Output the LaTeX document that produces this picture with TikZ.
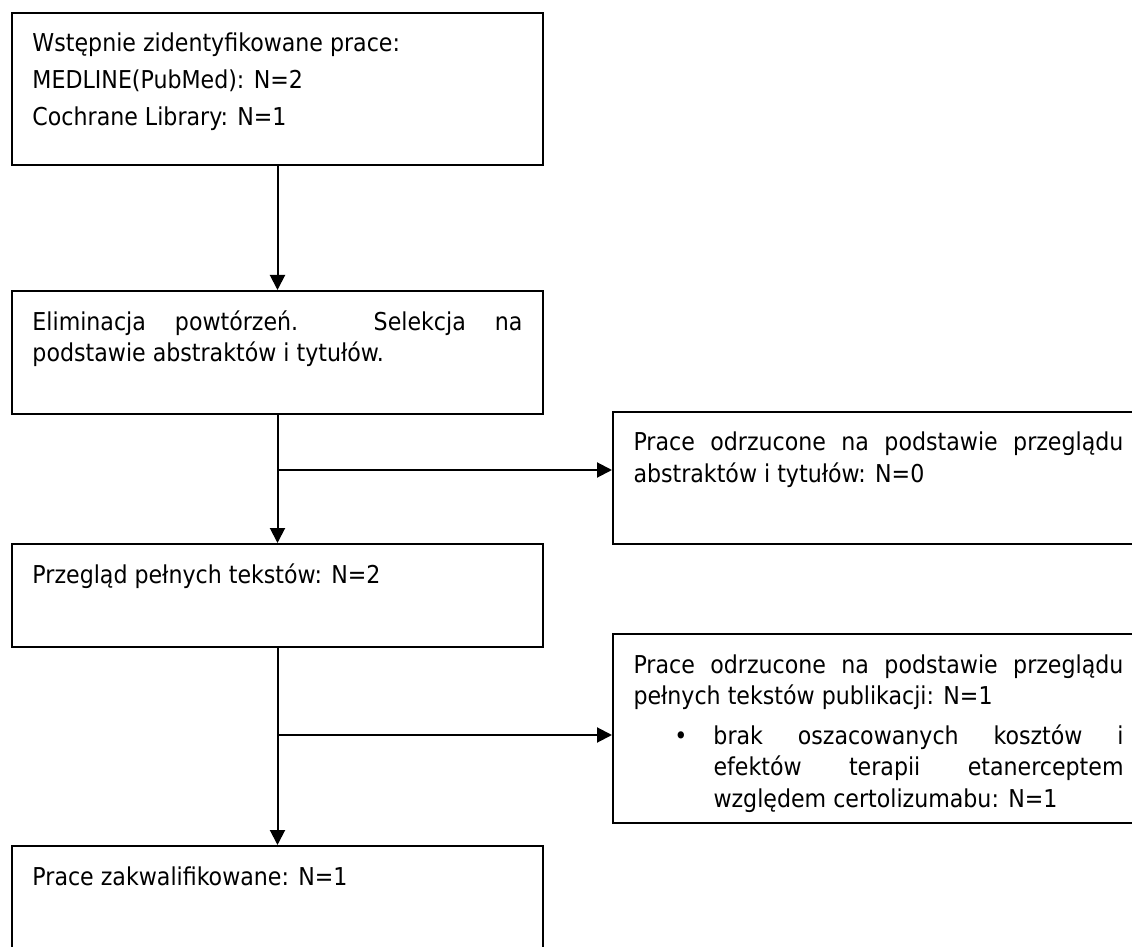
\documentclass[tikz,border=0pt]{standalone}
\usepackage{fontspec}
\setmainfont{DejaVu Sans Condensed}
\usetikzlibrary{calc, arrows.meta}

\begin{document}
\begin{tikzpicture}[x=0.5pt, y=-0.5pt,
    >={Triangle[length=7.5pt,width=7.5pt]},
    stage/.style={draw, line width=1pt, anchor=north west, text width=245pt,
      align=justify, inner xsep=10.25pt, inner ysep=0pt, text height=19.5pt,
      font=\fontsize{12.3}{15.8}\selectfont},
    flow/.style={line width=1pt, ->}]
    \useasboundingbox (0,0) rectangle (1132,947);
    % main column
    \node[stage, text depth=56.5pt] (b1) at (11,12) {Wstępnie zidentyfikowane prace:\\[2.5pt]
      MEDLINE(PubMed): N=2\\[2.5pt]Cochrane Library: N=1};
    \node[stage, text depth=42pt] (b2) at (11,290) {Eliminacja powtórzeń. Selekcja na\linebreak
      podstawie abstraktów i tytułów.};
    \node[stage, text depth=32pt] (b3) at (11,543) {Przegląd pełnych tekstów: N=2};
    \node[stage, text depth=53pt] (b4) at (11,845) {Prace zakwalifikowane: N=1};
    % excluded
    \node[stage, text depth=46.5pt] (r1) at (612,411) {Prace odrzucone na podstawie przeglądu\linebreak
      abstraktów i tytułów: N=0};
    \node[stage, text depth=75pt] (r2) at (612,633) {Prace odrzucone na podstawie przeglądu\linebreak
      pełnych tekstów publikacji: N=1\par\vspace{4pt}
      {\leftskip=40pt\noindent\llap{\textbullet\hspace{13pt}}brak oszacowanych kosztów i\linebreak
      efektów terapii etanerceptem\linebreak względem certolizumabu: N=1\par}};
    % vertical arrows
    \draw[flow] (b1) -- (b2);
    \draw[flow] (b2) -- (b3);
    \draw[flow] (b3) -- (b4);
    % side branches
    \coordinate (j1) at (b2.south |- 0,470);
    \coordinate (j2) at (b3.south |- 0,735);
    \draw[flow] (j1) -- (j1 -| r1.west);
    \draw[flow] (j2) -- (j2 -| r2.west);
  \end{tikzpicture}
\end{document}
